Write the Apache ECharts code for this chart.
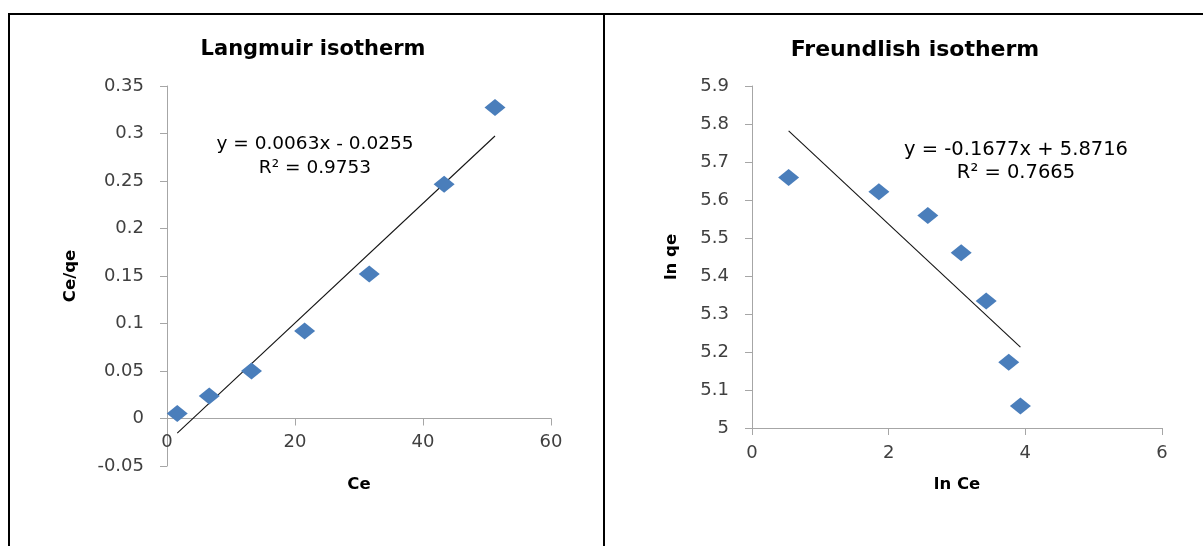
<!DOCTYPE html>
<html>
<head>
<meta charset="utf-8">
<script src="https://cdn.jsdelivr.net/npm/echarts@6/dist/echarts.min.js"></script>
<style>
html,body{margin:0;padding:0;background:#fff;}
#chart{width:1203px;height:546px;}
</style>
</head>
<body>
<div id="chart"></div>
<script>
// Langmuir data
const langCe = [1.6, 6.6, 13.2, 21.5, 31.6, 43.3, 51.25];
const langCeQe = [0.0053, 0.0238, 0.050, 0.0922, 0.152, 0.2466, 0.3274];
const langSlope = 0.0063, langIntercept = -0.0255;
const langEq = 'y = 0.0063x - 0.0255';
const langR2 = 'R² = 0.9753';
const langYTicks = {min: -0.05, max: 0.35, interval: 0.05};
const langXTicks = {min: 0, max: 60, interval: 20};

// Freundlich data
const freLnCe = [0.536, 1.857, 2.573, 3.061, 3.427, 3.757, 3.928];
const freLnQe = [5.659, 5.622, 5.559, 5.461, 5.334, 5.173, 5.058];
const freSlope = -0.1677, freIntercept = 5.8716;
const freEq = 'y = -0.1677x + 5.8716';
const freR2 = 'R² = 0.7665';
const freYTicks = {min: 5, max: 5.9, interval: 0.1};
const freXTicks = {min: 0, max: 6, interval: 2};

const titles = ['Langmuir isotherm', 'Freundlish isotherm'];
const xNames = ['Ce', 'ln Ce'];
const yNames = ['Ce/qe', 'ln qe'];

function pairs(xs, ys){ return xs.map((x,i)=>[x, ys[i]]); }
function trend(xs, m, b){
  const x0 = Math.min(...xs), x1 = Math.max(...xs);
  return [[x0, m*x0+b],[x1, m*x1+b]];
}

const FONT = 'DejaVu Sans';
const axisLineColor = '#a6a6a6';
const labelColor = '#404040';
const markerColor = '#4a7ebb';

const G0 = {left:167, top:86, width:384, height:380};
const G1 = {left:752, top:86, width:410, height:342};
// shift of the Langmuir x axis up to the y = 0 line
const langZeroOffset = -G0.height * (0 - langYTicks.min) / (langYTicks.max - langYTicks.min);

function xAxis(idx, t, gap, offset, margin){
  return {
    type:'value', gridIndex: idx, min:t.min, max:t.max, interval:t.interval,
    position:'bottom', offset: offset,
    name: xNames[idx], nameLocation:'middle', nameGap: gap,
    nameTextStyle:{fontFamily:FONT, fontWeight:'bold', fontSize:16.5, color:'#000'},
    axisLine:{show:true, onZero:false, lineStyle:{color:axisLineColor, width:1}},
    axisTick:{show:true, inside:false, length:7, lineStyle:{color:axisLineColor}},
    axisLabel:{fontFamily:FONT, fontSize:18, color:labelColor, margin:margin},
    splitLine:{show:false}
  };
}
function yAxis(idx, t, gap){
  return {
    type:'value', gridIndex: idx, min:t.min, max:t.max, interval:t.interval,
    name: yNames[idx], nameLocation:'middle', nameGap: gap, nameRotate:90,
    nameTextStyle:{fontFamily:FONT, fontWeight:'bold', fontSize:16.5, color:'#000'},
    axisLine:{show:true, onZero:false, lineStyle:{color:axisLineColor, width:1}},
    axisTick:{show:true, inside:false, length:7, lineStyle:{color:axisLineColor}},
    axisLabel:{fontFamily:FONT, fontSize:18, color:labelColor, margin:23},
    splitLine:{show:false}
  };
}

const eqStyle = {fontFamily:FONT, fontSize:18.5, fill:'#000', textAlign:'center', textVerticalAlign:'middle'};

const chart = echarts.init(document.getElementById('chart'), null, {renderer:'canvas'});
chart.setOption({
  animation:false,
  backgroundColor:'#ffffff',
  title:[
    {text:titles[0], left:308, top:34, textAlign:'center',
     textStyle:{fontFamily:FONT, fontWeight:'bold', fontSize:21, color:'#000'}},
    {text:titles[1], left:910, top:34, textAlign:'center',
     textStyle:{fontFamily:FONT, fontWeight:'bold', fontSize:22, color:'#000'}}
  ],
  grid:[ G0, G1 ],
  xAxis:[ xAxis(0, langXTicks, 58, langZeroOffset, 15), xAxis(1, freXTicks, 48, 0, 16) ],
  yAxis:[ yAxis(0, langYTicks, 88), yAxis(1, freYTicks, 72) ],
  series:[
    {type:'line', xAxisIndex:0, yAxisIndex:0, data:trend(langCe, langSlope, langIntercept),
     showSymbol:false, symbol:'none', lineStyle:{color:'#141414', width:1.1}, z:2},
    {type:'scatter', xAxisIndex:0, yAxisIndex:0, data:pairs(langCe, langCeQe),
     symbol:'diamond', symbolSize:[21,17], itemStyle:{color:markerColor, opacity:1}, z:3},
    {type:'line', xAxisIndex:1, yAxisIndex:1, data:trend(freLnCe, freSlope, freIntercept),
     showSymbol:false, symbol:'none', lineStyle:{color:'#141414', width:1.1}, z:2},
    {type:'scatter', xAxisIndex:1, yAxisIndex:1, data:pairs(freLnCe, freLnQe),
     symbol:'diamond', symbolSize:[21,17], itemStyle:{color:markerColor, opacity:1}, z:3}
  ],
  graphic:[
    {type:'line', shape:{x1:8, y1:14, x2:1203, y2:14}, style:{stroke:'#000', lineWidth:2}},
    {type:'line', shape:{x1:9, y1:14, x2:9, y2:546}, style:{stroke:'#000', lineWidth:2}},
    {type:'line', shape:{x1:604, y1:14, x2:604, y2:546}, style:{stroke:'#000', lineWidth:2}},
    {type:'text', x:315, y:144, style:Object.assign({text:langEq}, eqStyle)},
    {type:'text', x:315, y:168, style:Object.assign({text:langR2}, eqStyle)},
    {type:'text', x:1016, y:150, style:Object.assign({text:freEq}, eqStyle, {fontSize:19.5})},
    {type:'text', x:1016, y:173, style:Object.assign({text:freR2}, eqStyle, {fontSize:19.5})}
  ]
});
</script>
</body>
</html>
